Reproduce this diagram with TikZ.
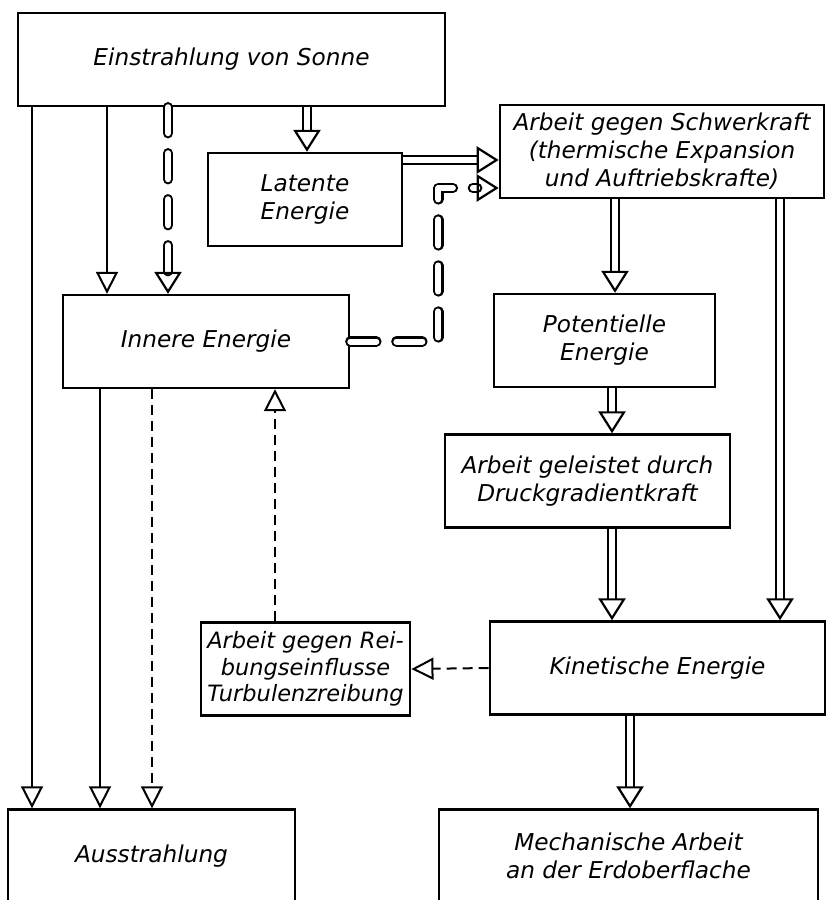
\documentclass[tikz,border=0pt]{standalone}
\usepackage{fontspec}
\setsansfont{DejaVu Sans}
\usetikzlibrary{arrows.meta,positioning}
\tikzset{
  %% Energy boxes
  enBox/.style={draw, line width=0.65mm, inner sep=1pt, align=center,
    minimum height=2.32cm, font=\sffamily\itshape\fontsize{16.5}{20}\selectfont},
  %% thin connectors
  enThin/.style={line width=0.5mm, -{Triangle[open, length=5.5mm, width=5.5mm]}},
  enDash/.style={enThin, dash pattern=on 2.5mm off 1.5mm},
  %% double (energy flow) connectors
  enFat/.style={double, line width=0.55mm, double distance=1.5mm,
    -{Triangle[open, length=5.5mm, width=6.8mm, line width=0.55mm]}},
  enFatDash/.style={enFat, line cap=round, line join=round,
    dash pattern=on 6.5mm off 5mm},
}
\begin{document}
\begin{tikzpicture}[x=0.025cm, y=-0.025cm]
\useasboundingbox (0,0) rectangle (827,900);

\node[enBox, minimum width=10.68cm] (ein)  at (231.5, 59.5) {Einstrahlung von Sonne};
\node[enBox, minimum width=4.85cm]  (lat)  at (305, 199.5)  {Latente\\Energie};
\node[enBox, minimum width=8.1cm]   (schw) at (662, 151.5)  {Arbeit gegen Schwerkraft\\(thermische Expansion\\und Auftriebskrafte)};
\node[enBox, minimum width=7.15cm]  (inn)  at (206, 341.5)  {Innere Energie};
\node[enBox, minimum width=5.53cm]  (pot)  at (604.5, 340.5) {Potentielle\\Energie};
\node[enBox, minimum width=7.13cm]  (dru)  at (587.5, 481)  {Arbeit geleistet durch\\Druckgradientkraft};
\node[enBox, minimum width=5.23cm, font=\sffamily\itshape\fontsize{16}{19}\selectfont]
                                    (rei)  at (305.5, 669)  {Arbeit gegen Rei-\\bungseinflusse\\Turbulenzreibung};
\node[enBox, minimum width=8.38cm]  (kin)  at (657.5, 668)  {Kinetische Energie};
\node[enBox, minimum width=7.18cm]  (aus)  at (151.5, 856)  {Ausstrahlung};
\node[enBox, minimum width=9.48cm]  (mec)  at (628.5, 856)  {Mechanische Arbeit\\an der Erdoberflache};

% radiation paths
\draw[enThin]    (ein.south -| 32,0)  -- (aus.north -| 32,0);
\draw[enThin]    (ein.south -| 107,0) -- (inn.north -| 107,0);
\draw[enFatDash] (ein.south -| 168,0) -- (inn.north -| 168,0);
\draw[enFat]     (ein.south -| 307,0) -- (lat.north -| 307,0);
\draw[enThin]    (inn.south -| 100,0) -- (aus.north -| 100,0);
\draw[enDash]    (inn.south -| 152,0) -- (aus.north -| 152,0);

% work against gravity
\draw[enFat]     (lat.east |- 0,160) -- (schw.west |- 0,160);
\draw[enFatDash] (inn.east) -- ++(88,0) |- (schw.west |- 0,188);

% potential -> kinetic
\draw[enFat] (schw.south -| 615,0) -- (pot.north -| 615,0);
\draw[enFat] (pot.south -| 612,0)  -- (dru.north -| 612,0);
\draw[enFat] (dru.south -| 612,0)  -- (kin.north -| 612,0);
\draw[enFat] (schw.south -| 780,0) -- (kin.north -| 780,0);
\draw[enFat] (kin.south -| 630,0)  -- (mec.north -| 630,0);

% friction
\draw[enDash] (kin.west) -- (rei.east);
\draw[enDash] (rei.north -| 275,0) -- (inn.south -| 275,0);

\end{tikzpicture}
\end{document}
